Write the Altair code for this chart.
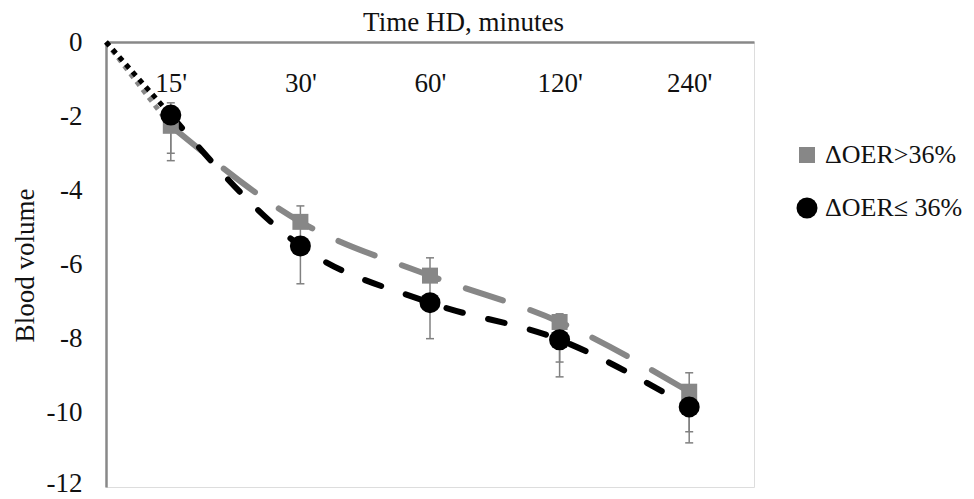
import json
import altair as alt
import pandas as pd

# ---- data ----
times = ["15'", "30'", "60'", "120'", "240'"]
series_names = ["ΔOER>36%", "ΔOER≤ 36%"]
gray_vals = [-2.26, -4.85, -6.30, -7.55, -9.43]
gray_hi = [-1.64, -4.42, -5.82, -7.33, -8.92]
gray_lo = [-3.00, -5.28, -6.80, -8.63, -10.51]
black_vals = [-1.97, -5.50, -7.03, -8.03, -9.84]
black_hi = [-1.97, -5.50, -7.03, -8.03, -9.84]
black_lo = [-3.20, -6.52, -8.00, -9.03, -10.81]
origin_value = 0.0
y_ticks = [-12, -10, -8, -6, -4, -2, 0]

GRAY = "#878787"
BLACK = "#000000"
FONT = "Liberation Serif"

rows = []
for s, vals, hi, lo in [(series_names[0], gray_vals, gray_hi, gray_lo),
                        (series_names[1], black_vals, black_hi, black_lo)]:
    for i, t in enumerate(times):
        rows.append({"pos": i + 0.5, "time": t, "series": s,
                     "value": vals[i], "hi": hi[i], "lo": lo[i]})
pts = pd.DataFrame(rows)

dot_rows = []
for s, vals in [(series_names[0], gray_vals), (series_names[1], black_vals)]:
    dot_rows.append({"pos": 0.0, "series": s, "value": origin_value})
    dot_rows.append({"pos": 0.5, "series": s, "value": vals[0]})
dots = pd.DataFrame(dot_rows)

label_expr = json.dumps(times) + "[floor(datum.value)]"

x_enc = alt.X("pos:Q",
              scale=alt.Scale(domain=[0, 5], nice=False, zero=False),
              axis=alt.Axis(orient="top", values=[0.5, 1.5, 2.5, 3.5, 4.5],
                            labelExpr=label_expr, ticks=False, grid=False,
                            domainColor="#888888", domainWidth=2.5,
                            labelFont=FONT, labelFontSize=27, labelColor="#111111",
                            labelBaseline="middle", labelPadding=-41,
                            labelAlign="center",
                            title="Time HD, minutes", titleFont=FONT,
                            titleFontSize=27, titleFontWeight="normal",
                            titleColor="#111111",
                            titleX=357, titleY=-20, titleAlign="center",
                            titleBaseline="middle"))
y_scale = alt.Scale(domain=[-12, 0], nice=False, zero=False)
y_enc = alt.Y("value:Q", scale=y_scale,
              axis=alt.Axis(values=y_ticks, ticks=False, grid=False,
                            domainColor="#888888", domainWidth=2.5,
                            labelExpr="datum.value == 0 ? '0' : '-' + abs(datum.value)",
                            labelFont=FONT, labelFontSize=27, labelColor="#111111",
                            labelPadding=24,
                            labelOffset={"condition": {"test": "datum.value == -12",
                                                       "value": -4},
                                         "value": 0},
                            title="Blood volume", titleFont=FONT, titleFontSize=27,
                            titleFontWeight="normal", titleColor="#111111",
                            titleAngle=-90, titleX=-81, titleY=223,
                            titleAlign="center", titleBaseline="middle"))

base_x = alt.X("pos:Q", scale=alt.Scale(domain=[0, 5], nice=False, zero=False))
base_y = alt.Y("value:Q", scale=y_scale)

dotted_gray = alt.Chart(dots[dots.series == series_names[0]]).mark_line(
    strokeWidth=5, strokeDash=[5, 5], color=GRAY).encode(x=x_enc, y=y_enc)
dotted_black = alt.Chart(dots[dots.series == series_names[1]]).mark_line(
    strokeWidth=5, strokeDash=[5, 5], color=BLACK).encode(x=base_x, y=base_y)

gray_line = alt.Chart(pts[pts.series == series_names[0]]).mark_line(
    strokeWidth=6, strokeDash=[39, 29], strokeCap="round", color=GRAY,
    interpolate="monotone").encode(x=base_x, y=base_y)

black_line = alt.Chart(pts[pts.series == series_names[1]]).mark_line(
    strokeWidth=6, strokeDash=[17, 26], strokeCap="round", color=BLACK,
    interpolate="monotone").encode(x=base_x, y=base_y)

err = alt.Chart(pts).mark_rule(color="#808080", strokeWidth=1.5).encode(
    x=base_x, y=alt.Y("lo:Q", scale=y_scale), y2="hi:Q")

cap_lo = alt.Chart(pts).mark_rule(color="#808080", strokeWidth=1.5,
                                  xOffset=-4, x2Offset=4).encode(
    x=base_x, x2="pos:Q", y=alt.Y("lo:Q", scale=y_scale))
cap_hi = alt.Chart(pts[pts.series == series_names[0]]).mark_rule(
    color="#808080", strokeWidth=1.5, xOffset=-4, x2Offset=4).encode(
    x=base_x, x2="pos:Q", y=alt.Y("hi:Q", scale=y_scale))

legend = alt.Legend(title=None, orient="none", legendX=688, legendY=100,
                    labelFont=FONT, labelFontSize=26, labelColor="#111111",
                    symbolSize=324, symbolStrokeWidth=0,
                    rowPadding=27, labelOffset=5, padding=0)

points = alt.Chart(pts).mark_point(filled=True, opacity=1, strokeWidth=0).encode(
    x=base_x, y=base_y,
    color=alt.Color("series:N",
                    scale=alt.Scale(domain=series_names, range=[GRAY, BLACK]),
                    legend=legend),
    shape=alt.Shape("series:N",
                    scale=alt.Scale(domain=series_names, range=["square", "circle"]),
                    legend=legend),
    size=alt.Size("series:N",
                  scale=alt.Scale(domain=series_names, range=[256, 441]),
                  legend=None))

chart = alt.layer(dotted_gray, dotted_black, gray_line, black_line, err, cap_lo,
                  cap_hi, points).properties(
    width=648, height=445,
    autosize=alt.AutoSizeParams(type="none"),
    padding={"left": 98, "top": 34, "right": 212, "bottom": 14},
).configure_view(stroke=None).configure(background="white")

chart.save("out.html", embed_options={"renderer": "svg", "actions": False})
